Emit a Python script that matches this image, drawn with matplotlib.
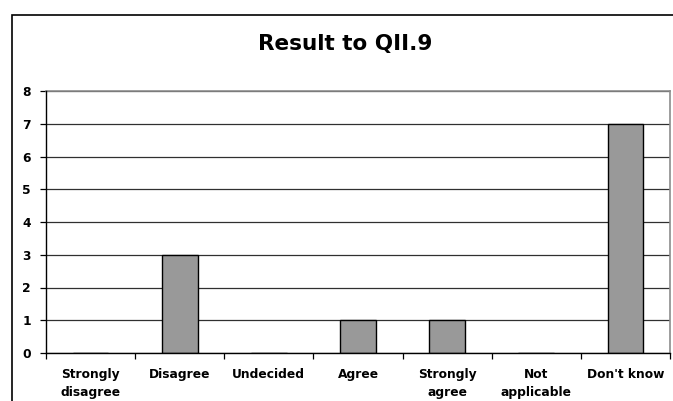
import numpy as np
import matplotlib
matplotlib.use("Agg")
import matplotlib.pyplot as plt
from matplotlib.patches import Rectangle

categories = ["Strongly\ndisagree", "Disagree", "Undecided", "Agree",
              "Strongly\nagree", "Not\napplicable", "Don't know"]
counts = [0, 3, 0, 1, 1, 0, 7]
title = "Result to QII.9"

plt.rcParams['font.family'] = ['DejaVu Sans']

fig = plt.figure(figsize=(6.73, 4.01), dpi=100)
# outer chart frame
fig.patches.append(Rectangle((12 / 673, -0.05), 1.0, 1 - 15 / 401 + 0.05,
                             transform=fig.transFigure, fill=False,
                             edgecolor='black', linewidth=1.2))

ax = fig.add_axes([46 / 673, 1 - 353 / 401, 624 / 673, 262 / 401])
x = np.arange(len(categories))
ax.bar(x, counts, width=0.4, color='#999999', edgecolor='black',
       linewidth=1.0, zorder=2)

ax.set_xlim(-0.5, len(categories) - 0.5)
ax.set_ylim(0, 8)
ax.set_yticks(range(0, 9))
ax.yaxis.grid(True, color='#303030', linewidth=0.9, zorder=0)
ax.set_axisbelow(True)

ax.set_xticks(np.arange(-0.5, len(categories), 1.0))
ax.set_xticklabels([])
ax.set_xticks(x, minor=True)
ax.set_xticklabels(categories, minor=True, fontsize=8.8, fontweight='bold',
                   linespacing=1.45)
ax.tick_params(axis='x', which='minor', length=0, pad=11)
ax.tick_params(axis='x', which='major', length=4, direction='out', width=0.9)
ax.tick_params(axis='y', length=4, direction='out', width=0.9, pad=7,
               labelsize=8.8)
for lab in ax.get_yticklabels():
    lab.set_fontweight('bold')

for side in ['top', 'right']:
    ax.spines[side].set_color('#8c8c8c')
    ax.spines[side].set_linewidth(1.2)
for side in ['left', 'bottom']:
    ax.spines[side].set_color('black')
    ax.spines[side].set_linewidth(1.0)
    ax.spines[side].set_zorder(3)

fig.text(345 / 673, 1 - 44 / 401, title, ha='center', va='center',
         fontsize=15.5, fontweight='bold')

fig.savefig("out.png", dpi=100)
